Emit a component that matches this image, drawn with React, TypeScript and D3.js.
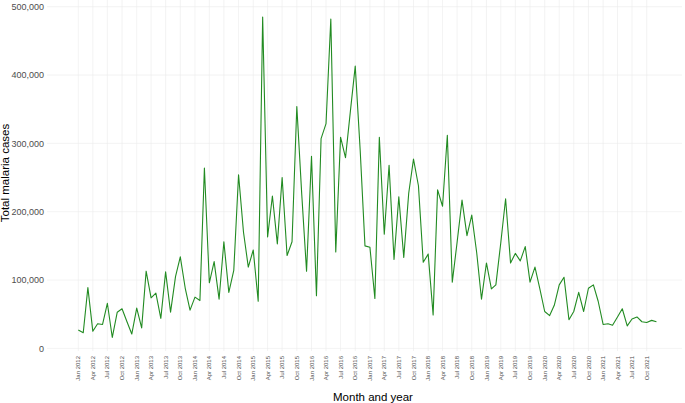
import React from "react";
import * as d3 from "d3";

const startYear = 2012;
const startMonth = 0;
// Monthly total malaria cases (thousands), Jan 2012 - Dec 2021
const casesK = [
  27, 23, 89, 25, 36, 35, 66, 16, 53, 58, 39, 21,
  59, 30, 113, 74, 81, 44, 112, 53, 105, 134, 88, 56,
  75, 70, 264, 96, 127, 72, 156, 82, 114, 254, 170, 119,
  144, 69, 485, 163, 223, 153, 250, 136, 156, 354, 225, 113,
  281, 77, 307, 329, 482, 141, 309, 279, 348, 413, 290, 150,
  148, 73, 309, 167, 268, 130, 222, 133, 227, 277, 238, 126,
  138, 49, 232, 208, 312, 97, 155, 217, 165, 195, 140, 72,
  125, 87, 93, 155, 219, 125, 139, 128, 149, 97, 119, 88,
  54, 48, 63, 93, 104, 42, 54, 82, 54, 88, 93, 69,
  35, 36, 34, 46, 58, 33, 43, 46, 39, 38, 41, 39,
];
const yTicks = [0, 100000, 200000, 300000, 400000, 500000];
const monthNames = ["Jan", "Feb", "Mar", "Apr", "May", "Jun", "Jul", "Aug", "Sep", "Oct", "Nov", "Dec"];

const data = casesK.map((v, i) => ({
  date: new Date(startYear, startMonth + i, 1),
  value: v * 1000,
}));
const xTickDates = d3.range(0, 120, 3).map((i) => new Date(startYear, startMonth + i, 1));

export default function App() {
  const W = 685, H = 403;
  const panelLeft = 47, panelRight = 682;
  const x = d3
    .scaleTime()
    .domain([new Date(2012, 0, 1), new Date(2021, 9, 1)])
    .range([78.3, 646.7]);
  const y = d3.scaleLinear().domain([0, 500000]).range([348.4, 6.7]);
  const line = d3
    .line<{ date: Date; value: number }>()
    .x((d) => x(d.date))
    .y((d) => y(d.value));
  const fmt = d3.format(",");
  const font = "'Liberation Sans', Arial, sans-serif";

  return (
    <svg
      width={W}
      height={H}
      style={{ position: "absolute", left: 0, top: 0, background: "#fff" }}
      fontFamily={font}
    >
      <rect x={0} y={0} width={W} height={H} fill="#fff" />
      {yTicks.map((t) => (
        <line key={"gy" + t} x1={panelLeft} x2={panelRight} y1={y(t)} y2={y(t)} stroke="#ebebeb" strokeWidth={0.6} />
      ))}
      {xTickDates.map((d, i) => (
        <line key={"gx" + i} x1={x(d)} x2={x(d)} y1={0} y2={351} stroke="#ebebeb" strokeWidth={0.6} />
      ))}
      <path d={line(data) || ""} fill="none" stroke="#228B22" strokeWidth={1.1} strokeLinejoin="round" />
      {yTicks.map((t) => (
        <text key={"ty" + t} x={44} y={y(t)} dy="0.35em" textAnchor="end" fontSize={9} fill="#4d4d4d">
          {fmt(t)}
        </text>
      ))}
      {xTickDates.map((d, i) => (
        <text
          key={"tx" + i}
          transform={`translate(${x(d)},356) rotate(-90)`}
          dy="0.35em"
          textAnchor="end"
          fontSize={6}
          fill="#4d4d4d"
        >
          {`${monthNames[d.getMonth()]} ${d.getFullYear()}`}
        </text>
      ))}
      <text x={373} y={401} textAnchor="middle" fontSize={11.5} fill="#000">
        Month and year
      </text>
      <text transform="translate(9,173) rotate(-90)" textAnchor="middle" fontSize={11.5} fill="#000">
        Total malaria cases
      </text>
    </svg>
  );
}
